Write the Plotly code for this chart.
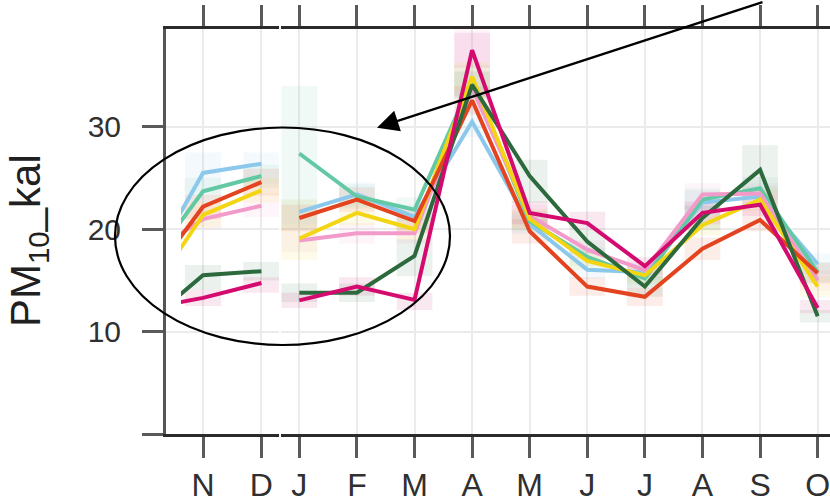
import plotly.graph_objects as go

# Months of the late-year panel (previous October is only partly in view) and the main panel
months_a = ["O", "N", "D"]
pos_a = [0, 1, 2]
months_b = ["J", "F", "M", "A", "M", "J", "J", "A", "S", "O"]
pos_b = [1, 2, 3, 4, 5, 6, 7, 8, 9, 10]

# Monthly mean PM10 per site: late-year panel values, then Jan..Oct values
site_names = ["site 1", "site 2", "site 3", "site 4", "site 5", "site 6", "site 7"]
site_colors = ["#8CC8EC", "#62C9A4", "#F29BCB", "#F3D511", "#E3431E", "#2C6A3E", "#D40A6E"]

late_vals = [
    [15.4, 25.5, 26.4],
    [16.0, 23.7, 25.2],
    [17.3, 21.0, 22.3],
    [12.9, 21.4, 23.8],
    [14.5, 22.2, 24.6],
    [10.7, 15.5, 15.9],
    [12.2, 13.3, 14.75],
]
main_vals = [
    [21.7, 23.4, 21.2, 30.5, 20.5, 16.05, 15.8, 22.6, 23.2, 16.6],
    [27.4, 23.2, 21.9, 34.5, 20.8, 17.3, 15.2, 22.9, 24.0, 15.8],
    [18.9, 19.6, 19.6, 33.8, 21.3, 18.0, 16.0, 23.4, 23.5, 15.0],
    [19.1, 21.6, 20.0, 34.9, 21.0, 16.9, 15.5, 20.4, 22.9, 14.4],
    [21.1, 22.9, 20.8, 32.6, 19.8, 14.4, 13.4, 18.1, 20.9, 15.7],
    [13.8, 13.8, 17.4, 34.1, 25.2, 18.8, 14.4, 21.1, 25.8, 11.5],
    [13.05, 14.4, 13.1, 37.5, 21.6, 20.6, 16.4, 21.6, 22.4, 12.3],
]

# 95% confidence intervals of the monthly means (lower, upper)
late_lo = [
    [14.0, 23.5, 24.5],
    [14.5, 22.5, 24.0],
    [16.0, 20.0, 21.2],
    [11.5, 20.2, 22.6],
    [13.2, 21.0, 23.3],
    [9.8, 14.1, 15.0],
    [11.2, 12.5, 13.8],
]
late_hi = [
    [16.8, 27.5, 27.5],
    [17.5, 25.0, 26.3],
    [18.6, 22.2, 23.5],
    [14.3, 22.6, 25.0],
    [15.8, 23.4, 25.9],
    [11.6, 16.5, 16.8],
    [13.2, 14.1, 15.3],
]
main_lo = [
    [20.5, 22.2, 20.0, 29.0, 19.5, 15.2, 15.0, 21.4, 22.2, 15.6],
    [20.0, 22.0, 20.7, 33.0, 19.8, 16.4, 14.4, 21.8, 22.9, 14.8],
    [17.8, 18.6, 18.6, 33.0, 20.2, 17.1, 15.2, 22.0, 22.5, 14.0],
    [17.0, 20.4, 18.9, 33.5, 20.0, 16.0, 14.7, 19.4, 21.8, 13.4],
    [19.8, 21.7, 19.6, 31.2, 18.6, 13.5, 12.5, 17.0, 19.8, 14.7],
    [12.9, 12.9, 15.4, 32.8, 22.6, 17.6, 13.4, 19.9, 23.5, 10.9],
    [12.3, 13.5, 12.1, 35.8, 20.5, 20.0, 15.5, 20.5, 21.3, 11.8],
]
main_hi = [
    [22.9, 24.6, 22.4, 32.0, 21.5, 16.9, 16.6, 23.8, 24.2, 17.6],
    [34.0, 24.4, 23.1, 36.0, 21.8, 18.2, 16.0, 24.0, 25.1, 16.8],
    [20.0, 20.6, 20.6, 40.0, 22.4, 18.9, 16.8, 24.5, 24.5, 16.0],
    [22.9, 22.8, 21.1, 36.3, 22.0, 17.8, 16.3, 21.4, 24.0, 15.4],
    [22.4, 24.1, 22.0, 34.0, 21.0, 15.3, 14.3, 19.2, 22.0, 16.7],
    [14.7, 14.7, 19.0, 35.4, 26.8, 20.0, 15.4, 22.3, 28.2, 12.1],
    [13.8, 15.3, 13.8, 39.2, 22.7, 21.7, 17.3, 22.7, 23.5, 13.1],
]

y_ticks = [0, 10, 20, 30]
y_tick_text = ["", "10", "20", "30"]
y_title = "PM<sub>10</sub>_kal"

FONT = "Liberation Sans, Arial, sans-serif"
AXIS_COL = "#2b2b2b"
TICK_COL = "#5a5a5a"
GRID_COL = "#ebebeb"

fig = go.Figure()

# shaded confidence boxes first, so the lines sit on top
for i, col in enumerate(site_colors):
    fig.add_trace(go.Bar(
        x=pos_a, base=late_lo[i], y=[h - l for h, l in zip(late_hi[i], late_lo[i])],
        width=0.62, marker=dict(color=col, line=dict(width=0)), opacity=0.09,
        xaxis="x", yaxis="y", showlegend=False, hoverinfo="skip"))
    fig.add_trace(go.Bar(
        x=pos_b, base=main_lo[i], y=[h - l for h, l in zip(main_hi[i], main_lo[i])],
        width=0.62, marker=dict(color=col, line=dict(width=0)), opacity=0.09,
        xaxis="x2", yaxis="y", showlegend=False, hoverinfo="skip"))

for i, col in enumerate(site_colors):
    fig.add_trace(go.Scatter(
        x=pos_a, y=late_vals[i], mode="lines", name=site_names[i],
        line=dict(color=col, width=4), xaxis="x", yaxis="y", showlegend=False))
    fig.add_trace(go.Scatter(
        x=pos_b, y=main_vals[i], mode="lines", name=site_names[i],
        line=dict(color=col, width=4), xaxis="x2", yaxis="y", showlegend=False))

# narrow strip between the y axis and the late-year panel
fig.add_trace(go.Scatter(x=[None], y=[None], xaxis="x3", yaxis="y",
                         showlegend=False, hoverinfo="skip"))

W, H = 830, 502
L, R, T, B = 166, 0, 29, 68
pw = W - L - R


def px(p):
    return (p - L) / pw


def py(q):
    return (H - B - q) / (H - T - B)


xcommon = dict(
    showline=True, linecolor=AXIS_COL, linewidth=2.5, mirror="ticks",
    ticks="outside", ticklen=21, tickwidth=3, tickcolor=TICK_COL,
    showgrid=True, gridcolor=GRID_COL, gridwidth=2, zeroline=False,
    tickfont=dict(family=FONT, size=32, color="#303030"),
    ticklabelstandoff=0, ticklabeloverflow="allow", automargin=False,
    anchor="y", fixedrange=True,
)

fig.update_layout(
    width=W, height=H,
    margin=dict(l=L, r=R, t=T, b=B, pad=0, autoexpand=False),
    paper_bgcolor="white", plot_bgcolor="white",
    barmode="overlay", showlegend=False,
    font=dict(family=FONT, color="#303030"),
    xaxis=dict(domain=[px(181), px(279)], range=[0.623, 2.301],
               tickvals=pos_a[1:], ticktext=months_a[1:], **xcommon),
    xaxis2=dict(domain=[px(281), 1.0], range=[0.682, 10.214],
                tickvals=pos_b, ticktext=months_b, **xcommon),
    xaxis3=dict(domain=[0.0, px(181)], range=[0, 1], showline=True,
                linecolor=AXIS_COL, linewidth=2.5, mirror=True, ticks="",
                showticklabels=False, showgrid=False, zeroline=False,
                automargin=False, anchor="y", fixedrange=True),
    yaxis=dict(domain=[0, 1], range=[0, 39.56], anchor="x3",
               tickvals=y_ticks, ticktext=y_tick_text,
               showline=True, linecolor="#555555", linewidth=3,
               ticks="outside", ticklen=21, tickwidth=3, tickcolor=TICK_COL,
               showgrid=True, gridcolor=GRID_COL, gridwidth=2, zeroline=False,
               tickfont=dict(family=FONT, size=30, color="#303030"),
               ticklabelstandoff=15, automargin=False, fixedrange=True),
    shapes=[dict(type="circle", xref="paper", yref="paper",
                 x0=px(115), x1=px(450), y0=py(345), y1=py(127.5),
                 line=dict(color="black", width=2.2), layer="above")],
    annotations=[
        # y-axis title, rotated
        dict(xref="paper", yref="paper", x=px(28), y=py(241),
             xanchor="center", yanchor="middle", textangle=-90,
             text=y_title, showarrow=False,
             font=dict(family=FONT, size=42, color="#202020")),
        # pointer arrow
        dict(xref="paper", yref="paper", x=px(377), y=py(127.7),
             ax=387, ay=-126, text="", showarrow=True,
             arrowhead=2, arrowsize=1.8, arrowwidth=2.4,
             arrowcolor="black"),
    ],
)

fig.write_html("out.html")
